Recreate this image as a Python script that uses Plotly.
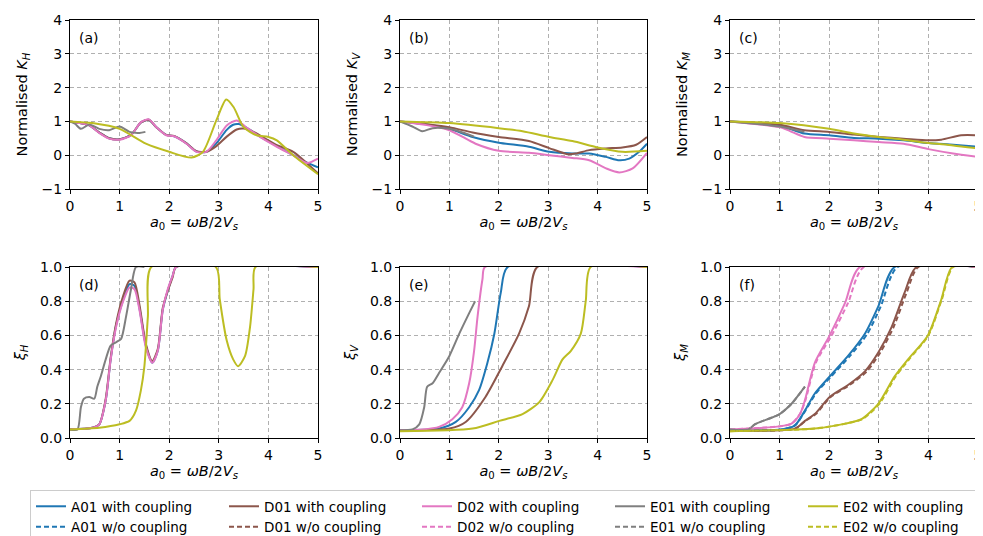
import plotly.graph_objects as go

# ---------------- colours / names ----------------
names = ["A01", "D01", "D02", "E01", "E02"]
colors = ["#1f77b4", "#8c564b", "#e377c2", "#7f7f7f", "#bcbd22"]

# ---------------- (a) Normalised K_H ----------------
a01_kh_x = [0, 0.2, 0.39, 0.6, 0.79, 1.0, 1.23, 1.43, 1.59, 1.74, 1.94, 2.1, 2.35, 2.55, 2.75, 2.95, 3.16, 3.29, 3.4, 3.55, 3.83, 4.17, 4.5, 4.78, 5.0]
a01_kh_y = [1.0, 0.95, 0.88, 0.66, 0.5, 0.47, 0.6, 0.97, 1.05, 0.83, 0.6, 0.56, 0.35, 0.11, 0.1, 0.35, 0.75, 0.9, 0.92, 0.82, 0.55, 0.27, 0.0, -0.22, -0.36]
d01_kh_x = [0, 0.2, 0.39, 0.6, 0.79, 1.0, 1.23, 1.43, 1.59, 1.74, 1.94, 2.1, 2.35, 2.55, 2.75, 2.95, 3.16, 3.36, 3.5, 3.7, 4.0, 4.17, 4.5, 5.0]
d01_kh_y = [1.0, 0.95, 0.88, 0.66, 0.5, 0.47, 0.6, 0.97, 1.05, 0.83, 0.6, 0.57, 0.35, 0.12, 0.1, 0.27, 0.55, 0.76, 0.79, 0.69, 0.44, 0.3, 0.1, -0.54]
d02_kh_x = [0, 0.2, 0.39, 0.6, 0.79, 1.0, 1.23, 1.43, 1.59, 1.74, 1.94, 2.1, 2.35, 2.55, 2.75, 2.95, 3.16, 3.36, 3.53, 3.83, 4.17, 4.5, 4.78, 5.0]
d02_kh_y = [1.0, 0.95, 0.88, 0.65, 0.49, 0.46, 0.59, 0.98, 1.06, 0.83, 0.59, 0.56, 0.34, 0.1, 0.1, 0.44, 0.88, 1.03, 0.85, 0.54, 0.25, 0.0, -0.23, -0.1]
e01_kh_x = [0, 0.1, 0.22, 0.39, 0.59, 0.79, 1.0, 1.2, 1.4, 1.52]
e01_kh_y = [1.0, 0.93, 0.78, 0.91, 0.78, 0.74, 0.85, 0.69, 0.66, 0.69]
e02_kh_x = [0, 0.45, 1.0, 1.53, 2.0, 2.45, 2.68, 2.95, 3.15, 3.3, 3.5, 3.76, 4.0, 4.17, 4.5, 5.0]
e02_kh_y = [1.0, 0.95, 0.78, 0.34, 0.1, -0.07, 0.1, 1.03, 1.65, 1.42, 0.83, 0.59, 0.54, 0.44, 0.0, -0.56]

# ---------------- (b) Normalised K_V ----------------
a01_kv_x = [0, 0.5, 1, 1.47, 2, 2.61, 3.02, 3.49, 3.83, 4.17, 4.44, 4.64, 4.84, 5]
a01_kv_y = [1, 0.92, 0.78, 0.54, 0.37, 0.25, 0.1, 0.05, 0.05, -0.05, -0.15, -0.1, 0.1, 0.34]
d01_kv_x = [0, 0.45, 1, 1.47, 2, 2.61, 3.02, 3.39, 3.56, 3.83, 4.17, 4.5, 4.78, 5]
d01_kv_y = [1, 0.93, 0.83, 0.67, 0.54, 0.42, 0.21, 0.03, 0.05, 0.15, 0.2, 0.23, 0.31, 0.54]
d02_kv_x = [0, 0.5, 1, 1.53, 2, 2.61, 3.02, 3.49, 3.83, 4.17, 4.44, 4.71, 5]
d02_kv_y = [1, 0.9, 0.74, 0.34, 0.13, 0.07, 0.0, -0.08, -0.15, -0.39, -0.51, -0.39, 0.07]
e01_kv_x = [0, 0.25, 0.45, 0.66, 1.0, 1.25, 1.5]
e01_kv_y = [1, 0.85, 0.71, 0.8, 0.78, 0.68, 0.55]
e02_kv_x = [0, 1, 2, 2.48, 3.02, 3.49, 4.0, 4.5, 5.0]
e02_kv_y = [1.0, 0.95, 0.8, 0.71, 0.54, 0.42, 0.23, 0.1, 0.13]

# ---------------- (c) Normalised K_M ----------------
a01_km_x = [0, 1, 1.5, 2, 2.5, 3, 3.5, 4, 4.5, 5]
a01_km_y = [1, 0.88, 0.64, 0.59, 0.51, 0.49, 0.44, 0.36, 0.31, 0.25]
d01_km_x = [0, 1, 1.5, 2, 2.5, 3, 3.5, 4, 4.26, 4.66, 5]
d01_km_y = [1, 0.9, 0.74, 0.69, 0.61, 0.54, 0.49, 0.44, 0.46, 0.59, 0.59]
d02_km_x = [0, 1, 1.2, 1.5, 2, 2.5, 3, 3.5, 4, 4.5, 5]
d02_km_y = [1, 0.83, 0.72, 0.54, 0.49, 0.44, 0.39, 0.34, 0.18, 0.05, -0.05]
e01_km_x = [0, 1, 1.5]
e01_km_y = [1, 0.85, 0.69]
e02_km_x = [0, 1, 2, 2.5, 3, 3.5, 4, 4.5, 5]
e02_km_y = [1, 0.95, 0.78, 0.64, 0.54, 0.46, 0.36, 0.29, 0.2]

# ---------------- (d) xi_H ----------------
a01_xh_x = [0, 0.45, 0.59, 0.72, 0.82, 0.93, 1.06, 1.2, 1.3, 1.4, 1.53, 1.66, 1.77, 1.87, 1.97, 2.07, 2.14, 5]
a01_xh_y = [0.05, 0.06, 0.08, 0.22, 0.46, 0.66, 0.8, 0.9, 0.89, 0.76, 0.54, 0.44, 0.51, 0.75, 0.86, 0.95, 1.0, 1.0]
d01_xh_x = [0, 0.45, 0.59, 0.72, 0.82, 0.93, 1.06, 1.2, 1.3, 1.4, 1.53, 1.66, 1.77, 1.87, 1.97, 2.07, 2.14, 5]
d01_xh_y = [0.05, 0.06, 0.08, 0.23, 0.47, 0.67, 0.82, 0.92, 0.91, 0.78, 0.55, 0.45, 0.52, 0.76, 0.86, 0.94, 1.0, 1.0]
d02_xh_x = [0, 0.45, 0.59, 0.72, 0.82, 0.93, 1.06, 1.2, 1.3, 1.4, 1.53, 1.66, 1.77, 1.87, 1.97, 2.07, 2.14, 5]
d02_xh_y = [0.05, 0.06, 0.08, 0.22, 0.46, 0.65, 0.79, 0.88, 0.87, 0.75, 0.53, 0.44, 0.51, 0.75, 0.87, 0.95, 1.0, 1.0]
e01_xh_x = [0, 0.15, 0.22, 0.28, 0.39, 0.49, 0.55, 0.62, 0.72, 0.82, 0.93, 1.03, 1.13, 1.23, 1.33, 1.5]
e01_xh_y = [0.05, 0.05, 0.18, 0.23, 0.24, 0.23, 0.3, 0.36, 0.46, 0.54, 0.56, 0.58, 0.71, 0.87, 1.0, 1.0]
e02_xh_x = [0, 0.59, 1.0, 1.2, 1.33, 1.43, 1.5, 1.57, 1.64, 2.94, 3.02, 3.16, 3.29, 3.39, 3.53, 3.63, 3.7, 3.74, 5]
e02_xh_y = [0.05, 0.06, 0.08, 0.1, 0.16, 0.28, 0.42, 0.71, 1.0, 1.0, 0.81, 0.57, 0.46, 0.42, 0.48, 0.65, 0.87, 1.0, 1.0]

# ---------------- (e) xi_V ----------------
a01_xv_x = [0, 0.79, 1.13, 1.4, 1.6, 1.77, 1.91, 2.04, 2.18, 5]
a01_xv_y = [0.045, 0.055, 0.094, 0.18, 0.28, 0.44, 0.61, 0.85, 1.0, 1.0]
d01_xv_x = [0, 1, 1.33, 1.73, 2.07, 2.41, 2.61, 2.78, 5]
d01_xv_y = [0.045, 0.055, 0.094, 0.24, 0.42, 0.61, 0.77, 1.0, 1.0]
d02_xv_x = [0, 0.45, 0.79, 1.06, 1.26, 1.4, 1.5, 1.57, 1.67, 1.72, 5]
d02_xv_y = [0.045, 0.05, 0.065, 0.11, 0.18, 0.32, 0.51, 0.71, 0.93, 1.0, 1.0]
e01_xv_x = [0, 0.25, 0.39, 0.49, 0.55, 0.66, 0.79, 1.0, 1.2, 1.4, 1.52]
e01_xv_y = [0.045, 0.05, 0.08, 0.18, 0.3, 0.32, 0.38, 0.48, 0.61, 0.73, 0.8]
e02_xv_x = [0, 1.47, 2.01, 2.48, 2.82, 3.09, 3.29, 3.46, 3.66, 3.76, 3.86, 5]
e02_xv_y = [0.04, 0.055, 0.1, 0.14, 0.21, 0.34, 0.46, 0.51, 0.61, 0.8, 1.0, 1.0]

# ---------------- (f) xi_M ----------------
a01_xm_x = [0, 1.04, 1.31, 1.51, 1.71, 2.01, 2.38, 2.72, 2.99, 3.32, 5]
a01_xm_y = [0.045, 0.05, 0.074, 0.16, 0.26, 0.36, 0.48, 0.61, 0.77, 1.0, 1.0]
d01_xm_x = [0, 1.31, 1.51, 1.71, 2.01, 2.38, 2.72, 2.99, 3.26, 3.52, 3.76, 5]
d01_xm_y = [0.045, 0.055, 0.1, 0.14, 0.24, 0.31, 0.39, 0.5, 0.65, 0.85, 1.0, 1.0]
d02_xm_x = [0, 1, 1.24, 1.41, 1.51, 1.71, 2.01, 2.32, 2.62, 5]
d02_xm_y = [0.05, 0.068, 0.084, 0.14, 0.22, 0.44, 0.6, 0.79, 1.0, 1.0]
e01_xm_x = [0, 0.37, 0.5, 1.0, 1.24, 1.51]
e01_xm_y = [0.05, 0.05, 0.08, 0.14, 0.2, 0.3]
e02_xm_x = [0, 1.71, 2.32, 2.65, 2.99, 3.32, 3.59, 3.99, 4.26, 4.48, 5]
e02_xm_y = [0.04, 0.055, 0.084, 0.11, 0.2, 0.36, 0.46, 0.6, 0.81, 1.0, 1.0]

# w/o coupling (f)
a01_xm_nc_x = [0, 1.04, 1.31, 1.52, 1.73, 2.04, 2.42, 2.77, 3.04, 3.38, 5]
a01_xm_nc_y = [0.045, 0.05, 0.074, 0.16, 0.26, 0.36, 0.48, 0.61, 0.77, 1.0, 1.0]
d01_xm_nc_x = [0, 1.31, 1.52, 1.73, 2.03, 2.41, 2.76, 3.03, 3.3, 3.56, 3.8, 5]
d01_xm_nc_y = [0.045, 0.055, 0.1, 0.14, 0.24, 0.31, 0.39, 0.5, 0.65, 0.85, 1.0, 1.0]
d02_xm_nc_x = [0, 1, 1.24, 1.41, 1.52, 1.73, 2.05, 2.38, 2.7, 5]
d02_xm_nc_y = [0.05, 0.068, 0.084, 0.14, 0.22, 0.44, 0.6, 0.79, 1.0, 1.0]
e01_xm_nc_x = [0, 0.37, 0.5, 1.0, 1.24, 1.51]
e01_xm_nc_y = [0.05, 0.05, 0.08, 0.14, 0.2, 0.3]
e02_xm_nc_x = [0, 1.71, 2.33, 2.67, 3.01, 3.34, 3.61, 4.0, 4.27, 4.5, 5]
e02_xm_nc_y = [0.04, 0.055, 0.084, 0.11, 0.2, 0.36, 0.46, 0.6, 0.81, 1.0, 1.0]

x_ticks = [0, 1, 2, 3, 4, 5]
k_ticks = [-1, 0, 1, 2, 3, 4]
xi_ticks = [0.0, 0.2, 0.4, 0.6, 0.8, 1.0]
panel_labels = ["(a)", "(b)", "(c)", "(d)", "(e)", "(f)"]
y_titles = ["Normalised <i>K</i><sub><i>H</i></sub>", "Normalised <i>K</i><sub><i>V</i></sub>",
            "Normalised <i>K</i><sub><i>M</i></sub>",
            "<i>ξ</i><sub><i>H</i></sub>", "<i>ξ</i><sub><i>V</i></sub>", "<i>ξ</i><sub><i>M</i></sub>"]
x_title = "<i>a</i><sub>0</sub> = <i>ωB</i>/2<i>V</i><sub><i>s</i></sub>"

panels = [
    [(a01_kh_x, a01_kh_y), (d01_kh_x, d01_kh_y), (d02_kh_x, d02_kh_y), (e01_kh_x, e01_kh_y), (e02_kh_x, e02_kh_y)],
    [(a01_kv_x, a01_kv_y), (d01_kv_x, d01_kv_y), (d02_kv_x, d02_kv_y), (e01_kv_x, e01_kv_y), (e02_kv_x, e02_kv_y)],
    [(a01_km_x, a01_km_y), (d01_km_x, d01_km_y), (d02_km_x, d02_km_y), (e01_km_x, e01_km_y), (e02_km_x, e02_km_y)],
    [(a01_xh_x, a01_xh_y), (d01_xh_x, d01_xh_y), (d02_xh_x, d02_xh_y), (e01_xh_x, e01_xh_y), (e02_xh_x, e02_xh_y)],
    [(a01_xv_x, a01_xv_y), (d01_xv_x, d01_xv_y), (d02_xv_x, d02_xv_y), (e01_xv_x, e01_xv_y), (e02_xv_x, e02_xv_y)],
    [(a01_xm_x, a01_xm_y), (d01_xm_x, d01_xm_y), (d02_xm_x, d02_xm_y), (e01_xm_x, e01_xm_y), (e02_xm_x, e02_xm_y)],
]
panel_f_nc = [(a01_xm_nc_x, a01_xm_nc_y), (d01_xm_nc_x, d01_xm_nc_y), (d02_xm_nc_x, d02_xm_nc_y),
              (e01_xm_nc_x, e01_xm_nc_y), (e02_xm_nc_x, e02_xm_nc_y)]

# the page body adds an 8px offset; positions below are window pixels
OFF = 8
W, H = 983, 536
col_px = [(70, 318), (400, 647), (730, 978)]
row_px = [(20, 189), (267, 438)]


def fx(px):
    return (px - OFF) / W


def fy(py):
    return 1 - (py - OFF) / H


fig = go.Figure()
FONT = "DejaVu Sans"

for p in range(6):
    r, c = divmod(p, 3)
    ax = "" if p == 0 else str(p + 1)
    xa, ya = "x" + ax, "y" + ax
    for i, (xs, ys) in enumerate(panels[p]):
        fig.add_trace(go.Scatter(
            x=xs, y=ys, mode="lines", xaxis=xa, yaxis=ya,
            line=dict(color=colors[i], width=2, shape="spline", smoothing=0.7),
            name=f"{names[i]} with coupling", legendrank=i + 1,
            showlegend=(p == 0), legendgroup=f"w{i}", hoverinfo="skip"))
    if p == 5:
        for i, (xs, ys) in enumerate(panel_f_nc):
            fig.add_trace(go.Scatter(
                x=xs, y=ys, mode="lines", xaxis=xa, yaxis=ya,
                line=dict(color=colors[i], width=2, dash="5px,3px", shape="spline", smoothing=0.7),
                name=f"{names[i]} w/o coupling", legendrank=i + 6,
                showlegend=True, legendgroup=f"n{i}", hoverinfo="skip"))

    x0, x1 = col_px[c]
    y0, y1 = row_px[r]
    common = dict(showline=True, linecolor="black", linewidth=1, mirror=True,
                  ticks="outside", ticklen=4, tickcolor="black", tickwidth=1,
                  showgrid=True, gridcolor="#b0b0b0", gridwidth=1, griddash="4px,3px",
                  zeroline=False, automargin=False, ticklabeloverflow="allow",
                  tickfont=dict(family=FONT, size=14, color="black"))
    fig.layout["xaxis" + ax] = dict(
        domain=[fx(x0), fx(x1)], anchor=ya, range=[0, 5], tickvals=x_ticks,
        title=dict(text=x_title, font=dict(family=FONT, size=14.5, color="black"), standoff=4),
        **common)
    if r == 0:
        yr, yt = [-1, 4], dict(tickvals=k_ticks)
    else:
        yr, yt = [0, 1], dict(tickvals=xi_ticks, ticktext=[f"{v:.1f}" for v in xi_ticks])
    fig.layout["yaxis" + ax] = dict(
        domain=[fy(y1), fy(y0)], anchor=xa, range=yr,
        title=dict(text=y_titles[p], font=dict(family=FONT, size=14.5, color="black"), standoff=10),
        **yt, **common)
    fig.add_annotation(text=panel_labels[p], xref=xa + " domain", yref=ya + " domain",
                       x=0.03, y=0.955, xanchor="left", yanchor="top", showarrow=False,
                       font=dict(family=FONT, size=14, color="black"))

fig.update_layout(
    width=W, height=H, margin=dict(l=0, r=0, t=0, b=0, autoexpand=False),
    paper_bgcolor="white", plot_bgcolor="white",
    font=dict(family=FONT, size=14, color="black"),
    legend=dict(orientation="h", xref="paper", yref="paper",
                x=fx(30), y=fy(490), xanchor="left", yanchor="top",
                bgcolor="white", bordercolor="#cccccc", borderwidth=1,
                font=dict(family=FONT, size=13.5, color="black"),
                itemwidth=30, entrywidth=148, entrywidthmode="pixels",
                tracegroupgap=0, traceorder="normal"),
)

fig.write_html("out.html")
